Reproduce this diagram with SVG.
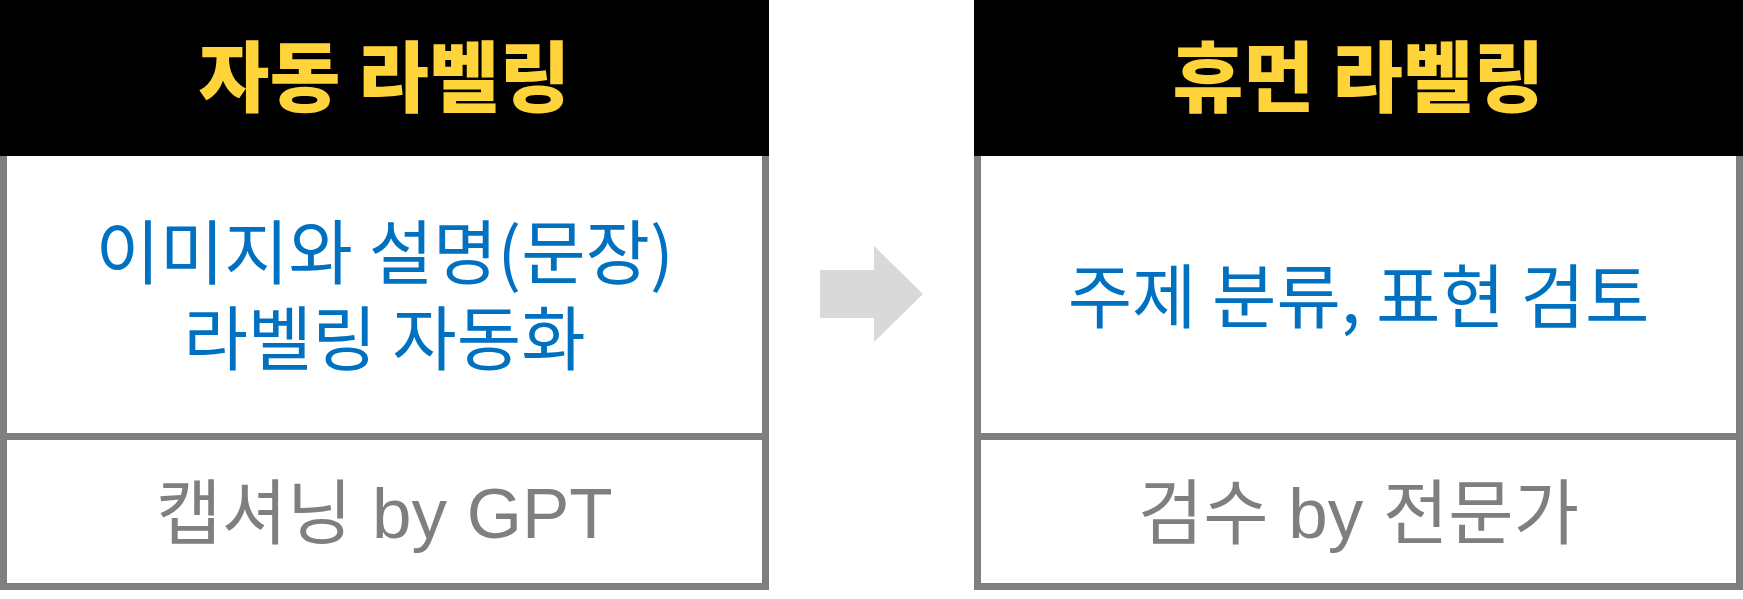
<svg xmlns="http://www.w3.org/2000/svg" width="1743" height="599" viewBox="0 0 1743 599">
<style>
.frame{fill:#ffffff;stroke:#7f7f7f;stroke-width:7}
.div{stroke:#7f7f7f;stroke-width:7}
.hdr{fill:#000000}
.title{font-family:"Noto Sans CJK KR","Noto Sans CJK SC",sans-serif;font-weight:900;font-size:77px;fill:#ffd43a;text-anchor:middle}
.main{font-family:"Noto Sans CJK KR","Noto Sans CJK SC",sans-serif;font-size:70px;fill:#0070c0;text-anchor:middle}
.sub{font-family:"Liberation Sans","Noto Sans CJK KR",sans-serif;font-size:71px;fill:#7f7f7f;text-anchor:middle}
.arrow{fill:#d9d9d9}
</style>
<rect width="1743" height="599" fill="#ffffff"/>
<g id="auto-labeling">
<rect class="frame" x="3.5" y="152.5" width="762" height="434"/>
<line class="div" x1="7" y1="436.5" x2="762" y2="436.5"/>
<rect class="hdr" x="0" y="0" width="769" height="156"/>
<text class="title" x="384.5" y="106">자동 라벨링</text>
<text class="main"><tspan x="384.5" y="279">이미지와 설명(문장)</tspan><tspan x="384.5" y="365">라벨링 자동화</tspan></text>
<text class="sub" x="384.5" y="538">캡셔닝 by GPT</text>
</g>
<g id="human-labeling">
<rect class="frame" x="977.5" y="152.5" width="762" height="434"/>
<line class="div" x1="981" y1="436.5" x2="1736" y2="436.5"/>
<rect class="hdr" x="974" y="0" width="769" height="156"/>
<text class="title" x="1358.5" y="106">휴먼 라벨링</text>
<text class="main" x="1358.5" y="323">주제 분류, 표현 검토</text>
<text class="sub" x="1358.5" y="538">검수 by 전문가</text>
</g>
<g id="connectors">
<polygon class="arrow" points="820,270 874,270 874,246 923,294 874,342 874,318 820,318"/>
</g>
</svg>
